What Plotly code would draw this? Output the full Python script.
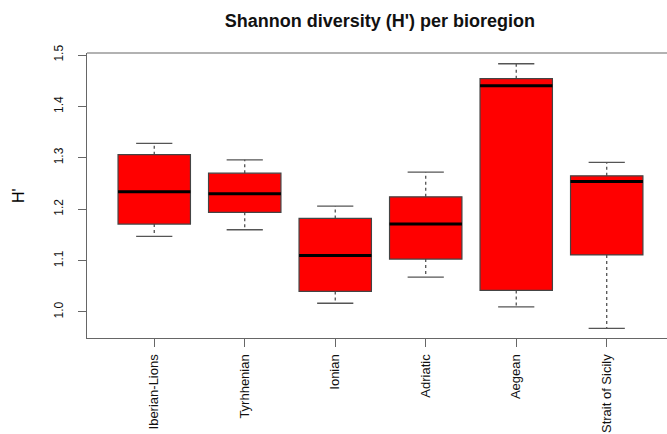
import plotly.graph_objects as go

# ---- data ----
categories = ["Iberian-Lions", "Tyrhhenian", "Ionian", "Adriatic", "Aegean", "Strait of Sicily"]
positions = [1, 2, 3, 4, 5, 6]
lower_whisker = [1.147, 1.160, 1.017, 1.068, 1.010, 0.968]
q1_vals = [1.171, 1.194, 1.040, 1.103, 1.042, 1.111]
median_vals = [1.234, 1.230, 1.110, 1.171, 1.440, 1.254]
q3_vals = [1.306, 1.270, 1.182, 1.224, 1.454, 1.265]
upper_whisker = [1.328, 1.296, 1.206, 1.272, 1.483, 1.291]
y_ticks = [1.0, 1.1, 1.2, 1.3, 1.4, 1.5]

BOX_W = 0.8
CAP_HALF = 0.2
MED_HALF = 0.4

fig = go.Figure()

# dashed whiskers
wx, wy = [], []
for p, lo, a, b, hi in zip(positions, lower_whisker, q1_vals, q3_vals, upper_whisker):
    wx += [p, p, None, p, p, None]
    wy += [b, hi, None, a, lo, None]
fig.add_trace(go.Scatter(x=wx, y=wy, mode="lines",
                         line=dict(color="#444444", width=1.2, dash="3px,3px"),
                         hoverinfo="skip", showlegend=False))
# whisker caps
cx, cy = [], []
for p, lo, hi in zip(positions, lower_whisker, upper_whisker):
    cx += [p - CAP_HALF, p + CAP_HALF, None, p - CAP_HALF, p + CAP_HALF, None]
    cy += [hi, hi, None, lo, lo, None]
fig.add_trace(go.Scatter(x=cx, y=cy, mode="lines",
                         line=dict(color="#555555", width=1.3),
                         hoverinfo="skip", showlegend=False))

# boxes
fig.add_trace(go.Box(x=positions, q1=q1_vals, median=median_vals, q3=q3_vals,
                     lowerfence=q1_vals, upperfence=q3_vals,
                     width=BOX_W, whiskerwidth=0,
                     fillcolor="#FF0000", line=dict(color="#444444", width=1.2),
                     boxpoints=False, showlegend=False, hoverinfo="skip"))

# thick medians
mx, my = [], []
for p, m in zip(positions, median_vals):
    mx += [p - MED_HALF, p + MED_HALF, None]
    my += [m, m, None]
fig.add_trace(go.Scatter(x=mx, y=my, mode="lines",
                         line=dict(color="#000000", width=3),
                         hoverinfo="skip", showlegend=False))

fig.update_layout(
    width=667, height=434,
    margin=dict(l=87, r=0, t=53, b=96, autoexpand=False),
    paper_bgcolor="white", plot_bgcolor="white",
    font=dict(family="Liberation Sans, Arial, sans-serif", color="#000000"),
    title=dict(text="<b>Shannon diversity (H') per bioregion</b>",
               x=0.505, xref="paper", xanchor="center",
               y=1 - 21 / 434, yref="container", yanchor="middle",
               font=dict(size=18, color="#111111")),
    xaxis=dict(range=[0.257, 6.666], tickmode="array", tickvals=positions,
               ticktext=categories, tickangle=-90, automargin=False,
               showgrid=False, zeroline=False,
               showline=True, linecolor="#666666", linewidth=1.2,
               ticks="outside", ticklen=8, tickcolor="#666666", tickwidth=1.2,
               tickfont=dict(size=13, color="#111111"), ticklabelstandoff=2),
    yaxis=dict(range=[0.9494, 1.5039], tickmode="array", tickvals=y_ticks,
               ticktext=[f"{v:.1f}" for v in y_ticks], tickangle=-90, automargin=False,
               showgrid=False, zeroline=False,
               showline=True, linecolor="#666666", linewidth=1.2,
               ticks="outside", ticklen=8, tickcolor="#666666", tickwidth=1.2,
               tickfont=dict(size=12, color="#111111"), ticklabelstandoff=10),
    shapes=[dict(type="line", xref="paper", yref="paper", x0=0, x1=1, y0=1, y1=1,
                 line=dict(color="#666666", width=1.2))],
    annotations=[dict(text="H'", xref="paper", yref="paper", x=(18.5 - 87) / 580, y=0.5,
                      xanchor="center", yanchor="middle", textangle=-90, showarrow=False,
                      font=dict(size=16, color="#000000"))],
)

fig.write_html("out.html", config={"displayModeBar": False},
               post_script="document.body.style.margin='0';document.body.style.overflow='hidden';")
